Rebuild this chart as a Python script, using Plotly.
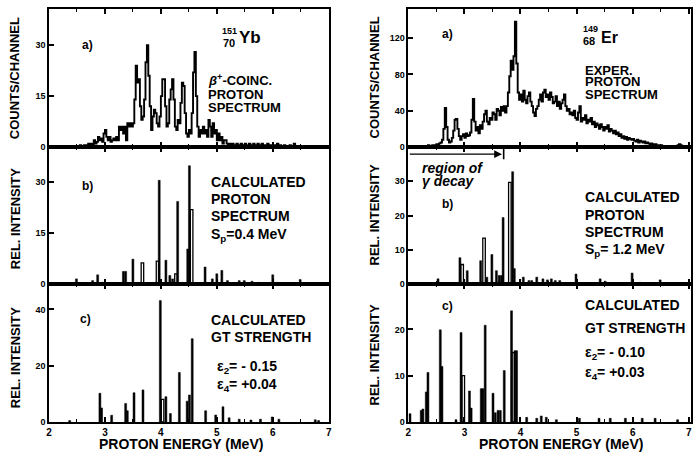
import plotly.graph_objects as go

FONT = "Liberation Sans, Arial, sans-serif"
CH = 0.025          # channel width (MeV)
E0 = 2.0            # energy of first channel (MeV)

# ---------------- data ----------------
# (a, left) 151Yb beta+-coincident proton spectrum, counts/channel from 2.0 MeV
yb_counts = [
    0, 0, 0, 0, 0, 0, 0, 0, 0, 0,
    0, 0, 0, 0, 0, 0, 0, 0, 0, 0,
    0, 0, 0.5, 0, 0, 0.5, 0, 0.5, 1, 0.5,
    1, 0.5, 2, 1, 1.5, 3, 2, 2.5, 1.5, 4,
    5, 3, 2, 3, 1.5, 2, 2.5, 2, 3, 2,
    6, 5, 6, 4, 6, 2, 7, 6, 7, 6,
    7, 14, 24, 19, 20, 12, 8, 9, 14, 25,
    30, 21, 12, 5, 9, 11, 10, 7, 6, 9,
    15, 20, 20, 12, 6, 7, 14, 17, 20, 14,
    6, 5, 8, 7, 13, 19, 18, 10, 4, 3,
    5, 4, 10, 22, 28, 15, 6, 3, 5, 4,
    6, 4, 5, 3, 8, 6, 3, 7, 4, 5,
    2, 4, 2, 3, 1, 2, 2, 1, 0.5, 1,
    0.5, 1, 0, 0.5, 1, 0.5, 0, 1, 0.5, 0,
    1, 0.5, 0, 1, 0.5, 0.5, 1, 0, 0.5, 1,
    0, 0.5, 1, 0, 0.5, 0, 1, 0.5, 0, 0.5,
    0, 0.5, 0, 1, 0, 0.5, 0, 0, 0.5, 0,
    0, 0, 0.5, 0, 0, 1, 0, 0, 0, 0,
]

# (a, right) 149Er experimental proton spectrum, counts/channel from 2.0 MeV
er_counts = [
    1, 1, 0, 1, 1, 0, 1, 1, 1, 0,
    1, 1, 1, 1, 2, 1, 1, 2, 2, 2,
    3, 3, 4, 5, 8, 20, 43, 22, 8, 5,
    6, 10, 18, 30, 31, 20, 12, 8, 12, 14,
    10, 15, 12, 13, 16, 30, 53, 28, 18, 22,
    15, 24, 20, 28, 36, 40, 28, 25, 32, 30,
    38, 36, 30, 42, 40, 35, 44, 40, 45, 38,
    45, 60, 78, 95, 85, 100, 138, 92, 60, 52,
    58, 50, 62, 52, 48, 56, 60, 50, 45, 38,
    34, 42, 45, 52, 58, 50, 60, 63, 55, 58,
    52, 60, 55, 48, 50, 56, 45, 50, 42, 48,
    52, 58, 45, 40, 42, 36, 38, 35, 40, 32,
    30, 38, 45, 28, 32, 30, 35, 26, 30, 28,
    32, 25, 28, 22, 26, 24, 20, 25, 22, 18,
    22, 20, 24, 17, 20, 18, 15, 18, 14, 16,
    12, 14, 10, 12, 9, 11, 8, 10, 9, 8,
    9, 7, 6, 8, 5, 7, 6, 5, 6, 4,
    5, 4, 3, 4, 3, 2, 3, 2, 2, 1,
    2, 1, 1, 1, 0, 1, 0, 0, 0, 0,
    0, 1, 2, 3, 2, 1, 0, 0, 0, 0,
]

# (b, left) calculated proton spectrum 151Yb, Sp = 0.4 MeV
yb_calc_e = [2.49, 2.78, 2.87, 2.96, 3.33, 3.37, 3.50, 3.97, 4.09, 4.16, 4.21, 4.30,
             4.48, 4.51, 4.79, 4.92, 5.00, 5.09, 5.19, 5.40, 5.49, 5.63, 5.75, 6.00,
             6.08, 6.49, 6.76]
yb_calc_i = [1.5, 1, 2.7, 0.5, 3.7, 3.7, 7.3, 30.5, 7, 2.5, 1.5, 24.3,
             10.3, 34.8, 5, 1.5, 3, 4, 1, 1, 1, 0.8, 0.5, 2.7,
             0.5, 1.3, 0.3]
yb_calc_open_e = [3.67, 3.94, 4.27, 4.55]
yb_calc_open_i = [6.2, 6.7, 3, 21.9]

# (c, left) calculated GT strength 151Yb
yb_gt_e = [2.37, 2.91, 2.94, 3.12, 3.37, 3.40, 3.52, 3.68, 3.99, 4.09, 4.17, 4.33,
           4.47, 4.51, 4.56, 4.80, 4.98, 5.11, 5.22, 5.40, 5.61, 5.78, 5.99, 6.11,
           6.76, 6.82]
yb_gt_i = [0.5, 10.2, 5, 2.4, 6.6, 4, 10.4, 11.4, 43.1, 9, 3, 17.6,
           7.4, 9.6, 29.6, 4, 2.5, 5.4, 1.5, 1, 0.7, 1, 1.8, 1,
           0.8, 0.5]
yb_gt_open_e = [4.03]
yb_gt_open_i = [8]

# (b, right) calculated proton spectrum 149Er, Sp = 1.2 MeV
er_calc_e = [2.29, 2.53, 2.92, 3.05, 3.29, 3.40, 3.49, 3.57, 3.62, 3.66, 3.69, 3.86,
             3.89, 4.05, 4.15, 4.20, 4.29, 4.40, 4.48, 4.55, 4.62, 4.70, 4.99, 5.42,
             5.51, 5.99, 6.13, 6.49]
er_calc_i = [0.3, 1.5, 7.7, 3.9, 6.8, 2, 8.6, 3.9, 2.5, 2.5, 19.4, 32.8,
             4.5, 2, 1, 1, 2, 1.5, 1.2, 1.5, 1, 1, 2.9, 1.5,
             0.8, 3.2, 0.5, 1.2]
er_calc_open_e = [2.96, 3.35, 3.81]
er_calc_open_i = [5.7, 13.4, 29.7]

# (c, right) calculated GT strength 149Er
er_gt_e = [2.03, 2.23, 2.26, 2.32, 2.35, 2.57, 2.60, 2.85, 2.94, 3.09, 3.12, 3.30,
           3.33, 3.37, 3.51, 3.55, 3.60, 3.64, 3.71, 3.84, 3.90, 3.93, 4.11, 4.29,
           4.37, 4.46, 4.64, 5.05, 5.40, 5.60, 5.87, 6.17, 6.40, 6.80]
er_gt_i = [1.8, 2.5, 2.8, 6.5, 10.7, 19.9, 12, 0.5, 19.3, 6.7, 3, 7.2,
           7.2, 20.9, 6.2, 2, 2.5, 2.5, 11.1, 24, 15.4, 15.4, 1, 0.8,
           1.3, 1, 0.5, 0.8, 0.8, 0.8, 0.8, 0.8, 0.8, 0.5]
er_gt_open_e = [2.98, 3.87]
er_gt_open_i = [10, 15]

x_ticks = [2, 3, 4, 5, 6, 7]
y_ticks = {
    "yb_a": [0, 15, 30], "yb_b": [0, 15, 30], "yb_c": [0, 20, 40],
    "er_a": [0, 40, 80, 120], "er_b": [0, 10, 20, 30], "er_c": [0, 10, 20],
}

# ---------------- layout geometry ----------------
W, H = 697, 454
ML, MR, MT, MB = 49, 3, 9, 32
PW, PH = W - ML - MR, H - MT - MB


def px(x):
    """screen pixel x -> paper"""
    return (x - ML) / PW


def py(y):
    """screen pixel y -> paper"""
    return (H - MB - y) / PH


left_dom = [0, px(330)]
right_dom = [px(410), 1]
rows = [[py(147), 1], [py(284), py(147)], [0, py(284)]]

fig = go.Figure()


def hist_x(counts):
    return [E0 + i * CH for i in range(len(counts) + 1)]


def hist_y(counts):
    return list(counts) + [counts[-1]]


fig.add_trace(go.Scatter(x=hist_x(yb_counts), y=hist_y(yb_counts), mode="lines",
                         line=dict(shape="hv", color="black", width=1.9),
                         xaxis="x", yaxis="y", showlegend=False))
fig.add_trace(go.Scatter(x=hist_x(er_counts), y=hist_y(er_counts), mode="lines",
                         line=dict(shape="hv", color="black", width=1.9),
                         xaxis="x2", yaxis="y2", showlegend=False))


def add_bars(e, i, xa, ya, open_=False):
    if open_:
        fig.add_trace(go.Bar(x=e, y=i, width=0.045, xaxis=xa, yaxis=ya, showlegend=False,
                             marker=dict(color="white", line=dict(color="black", width=1.3))))
    else:
        fig.add_trace(go.Bar(x=e, y=i, width=0.035, xaxis=xa, yaxis=ya, showlegend=False,
                             marker=dict(color="black", line=dict(color="black", width=0.5))))


add_bars(yb_calc_open_e, yb_calc_open_i, "x3", "y3", True)
add_bars(yb_calc_e, yb_calc_i, "x3", "y3")
add_bars(er_calc_open_e, er_calc_open_i, "x4", "y4", True)
add_bars(er_calc_e, er_calc_i, "x4", "y4")
add_bars(yb_gt_open_e, yb_gt_open_i, "x5", "y5", True)
add_bars(yb_gt_e, yb_gt_i, "x5", "y5")
add_bars(er_gt_open_e, er_gt_open_i, "x6", "y6", True)
add_bars(er_gt_e, er_gt_i, "x6", "y6")

tickfont = dict(family=FONT, size=10, color="black", weight="bold")


def xaxis(dom, anchor, labels, rng):
    return dict(domain=dom, anchor=anchor, range=rng, tickvals=x_ticks,
                showticklabels=labels, ticks="inside", ticklen=5, tickwidth=1.5,
                tickcolor="black", showline=True, linecolor="black", linewidth=1.6,
                mirror="ticks", showgrid=False, zeroline=False, tickfont=tickfont,
                ticklabeloverflow="allow",
                minor=dict(dtick=0.5, tick0=2, ticks="inside", ticklen=3,
                           tickcolor="black", tickwidth=1.2))


def yaxis(dom, anchor, rng, tv):
    return dict(domain=dom, anchor=anchor, range=rng, tickvals=tv,
                ticks="inside", ticklen=5, tickwidth=1.5, tickcolor="black",
                showline=True, linecolor="black", linewidth=1.6, mirror=True,
                showgrid=False, zeroline=False, tickfont=dict(family=FONT, size=9,
                                                              color="black", weight="bold"))


LR = [2, 7]
RR = [2, 7.04]

fig.update_layout(
    width=W, height=H, margin=dict(l=ML, r=MR, t=MT, b=MB),
    paper_bgcolor="white", plot_bgcolor="white", barmode="overlay",
    xaxis=xaxis(left_dom, "y", False, LR), yaxis=yaxis(rows[0], "x", [0, 40.7], y_ticks["yb_a"]),
    xaxis2=xaxis(right_dom, "y2", False, RR), yaxis2=yaxis(rows[0], "x2", [0, 152], y_ticks["er_a"]),
    xaxis3=xaxis(left_dom, "y3", False, LR), yaxis3=yaxis(rows[1], "x3", [0, 40.3], y_ticks["yb_b"]),
    xaxis4=xaxis(right_dom, "y4", False, RR), yaxis4=yaxis(rows[1], "x4", [0, 40], y_ticks["er_b"]),
    xaxis5=xaxis(left_dom, "y5", True, LR), yaxis5=yaxis(rows[2], "x5", [0, 49], y_ticks["yb_c"]),
    xaxis6=xaxis(right_dom, "y6", True, RR), yaxis6=yaxis(rows[2], "x6", [0, 29.8], y_ticks["er_c"]),
)

ann = []


def txt(t, x, y, size=14, anchor="left", angle=0, italic=False):
    s = "<b>" + t + "</b>"
    if italic:
        s = "<i>" + s + "</i>"
    ann.append(dict(text=s, x=px(x), y=py(y), xref="paper", yref="paper",
                    xanchor=anchor, yanchor="middle", showarrow=False, textangle=angle,
                    font=dict(family=FONT, size=size, color="black")))


# axis titles
txt("PROTON ENERGY (MeV)", 182, 444, 14, "center")
txt("PROTON ENERGY (MeV)", 563, 444, 14, "center")
txt("COUNTS/CHANNEL", 15, 78, 13, "center", -90)
txt("REL. INTENSITY", 15, 219, 13, "center", -90)
txt("REL. INTENSITY", 15, 358, 13, "center", -90)
txt("COUNTS/CHANNEL", 376, 77, 13, "center", -90)
txt("REL. INTENSITY", 376, 215, 13, "center", -90)
txt("REL. INTENSITY", 376, 355, 13, "center", -90)

# left column
txt("a)", 80, 45, 12)
txt("151", 230, 31, 9, "center")
txt("70", 230, 43, 11, "center")
txt("Yb", 238, 38, 17)
txt("<i>β</i><sup>+</sup>-COINC.", 207, 80, 13)
txt("PROTON", 207, 95, 13)
txt("SPECTRUM", 207, 108, 13)

txt("b)", 80, 186, 12)
txt("CALCULATED", 210, 182, 14)
txt("PROTON", 210, 199, 14)
txt("SPECTRUM", 210, 216, 14)
txt("S<sub>p</sub>=0.4 MeV", 210, 235, 14)

txt("c)", 78, 319, 12)
txt("CALCULATED", 210, 320, 14)
txt("GT STRENGTH", 210, 337, 14)
txt("ε<sub>2</sub>= - 0.15", 216, 367, 14)
txt("ε<sub>4</sub>= +0.04", 216, 385, 14)

# right column
txt("a)", 442, 34, 12)
txt("149", 593, 29, 9, "center")
txt("68", 592, 41, 11, "center")
txt("Er", 602, 38, 16)
txt("EXPER.", 585, 70, 13)
txt("PROTON", 585, 82, 13)
txt("SPECTRUM", 585, 95, 13)

txt("region of", 422, 168, 14, italic=True)
txt("γ decay", 422, 181, 14, italic=True)
txt("b)", 442, 204, 12)
txt("CALCULATED", 585, 197, 14)
txt("PROTON", 585, 215, 14)
txt("SPECTRUM", 585, 232, 14)
txt("S<sub>p</sub>= 1.2 MeV", 585, 250, 14)

txt("c)", 442, 306, 12)
txt("CALCULATED", 585, 305, 14)
txt("GT STRENGTH", 585, 328, 14)
txt("ε<sub>2</sub>= - 0.10", 585, 353, 14)
txt("ε<sub>4</sub>= +0.03", 585, 373, 14)

# region of gamma decay arrow (right b panel)
ann.append(dict(x=3.67, y=37.9, ax=2.0, ay=37.9, xref="x4", yref="y4", axref="x4", ayref="y4",
                text="", showarrow=True, arrowhead=2, arrowsize=1.2, arrowwidth=1.3,
                arrowcolor="black"))
fig.update_layout(annotations=ann)
fig.add_shape(type="line", xref="x4", yref="y4", x0=3.70, x1=3.70, y0=36.4, y1=41,
              line=dict(color="black", width=1.6))

# remove the default page margin so the 697x454 figure fills the window exactly
fig.write_html("out.html", config={"displayModeBar": False},
               post_script="document.body.style.margin='0px';document.body.style.overflow='hidden';")
